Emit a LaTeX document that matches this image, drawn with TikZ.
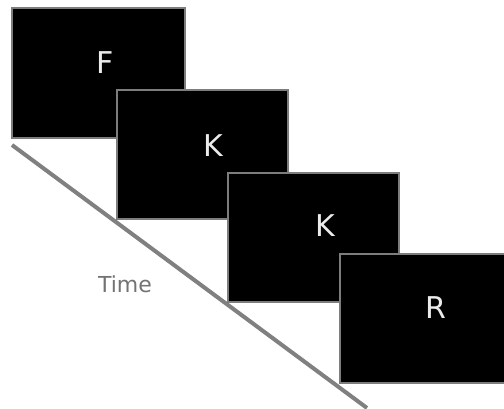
\documentclass[tikz,border=0pt]{standalone}
\usepackage{fontspec}
\setmainfont{DejaVu Sans}
\usetikzlibrary{calc}
\definecolor{rim}{RGB}{125,125,125}
\definecolor{axisgray}{RGB}{128,128,128}
\definecolor{glyph}{RGB}{235,235,235}
\definecolor{caption}{RGB}{115,115,115}
\tikzset{
  screen/.style={draw=rim, fill=black, line width=2pt, inner sep=0pt,
                 minimum width=171pt, minimum height=129pt},
  letter/.style={text=glyph, font=\fontsize{30}{30}\selectfont, inner sep=0pt},
  timeline/.style={draw=axisgray, line width=4pt},
}
\begin{document}
\begin{tikzpicture}[x=1pt, y=-1pt]
  % canvas
  \path[fill=white] (0,0) rectangle (504,409);
  \useasboundingbox (0,0) rectangle (504,409);

  % time axis running under the stack of screens
  \coordinate (tstart) at (12,145);
  \coordinate (tend) at (367,408);
  \draw[timeline] (tstart) -- (tend);
  \node[text=caption, font=\fontsize{22}{22}\selectfont, inner sep=0pt] (timelabel) at (125,284) {Time};

  % screens in order of presentation
  \node[screen, minimum width=173pt, minimum height=130pt] (s1) at (98.5,73) {};
  \node[letter] (l1) at (105,63) {F};
  \node[screen] (s2) at (202.5,155) {};
  \node[letter] (l2) at (213,146) {K};
  \node[screen] (s3) at (313,237.5) {};
  \node[letter] (l3) at (325,226) {K};
  \node[screen] (s4) at (425,318.5) {};
  \node[letter] (l4) at (436,308) {R};
\end{tikzpicture}
\end{document}
